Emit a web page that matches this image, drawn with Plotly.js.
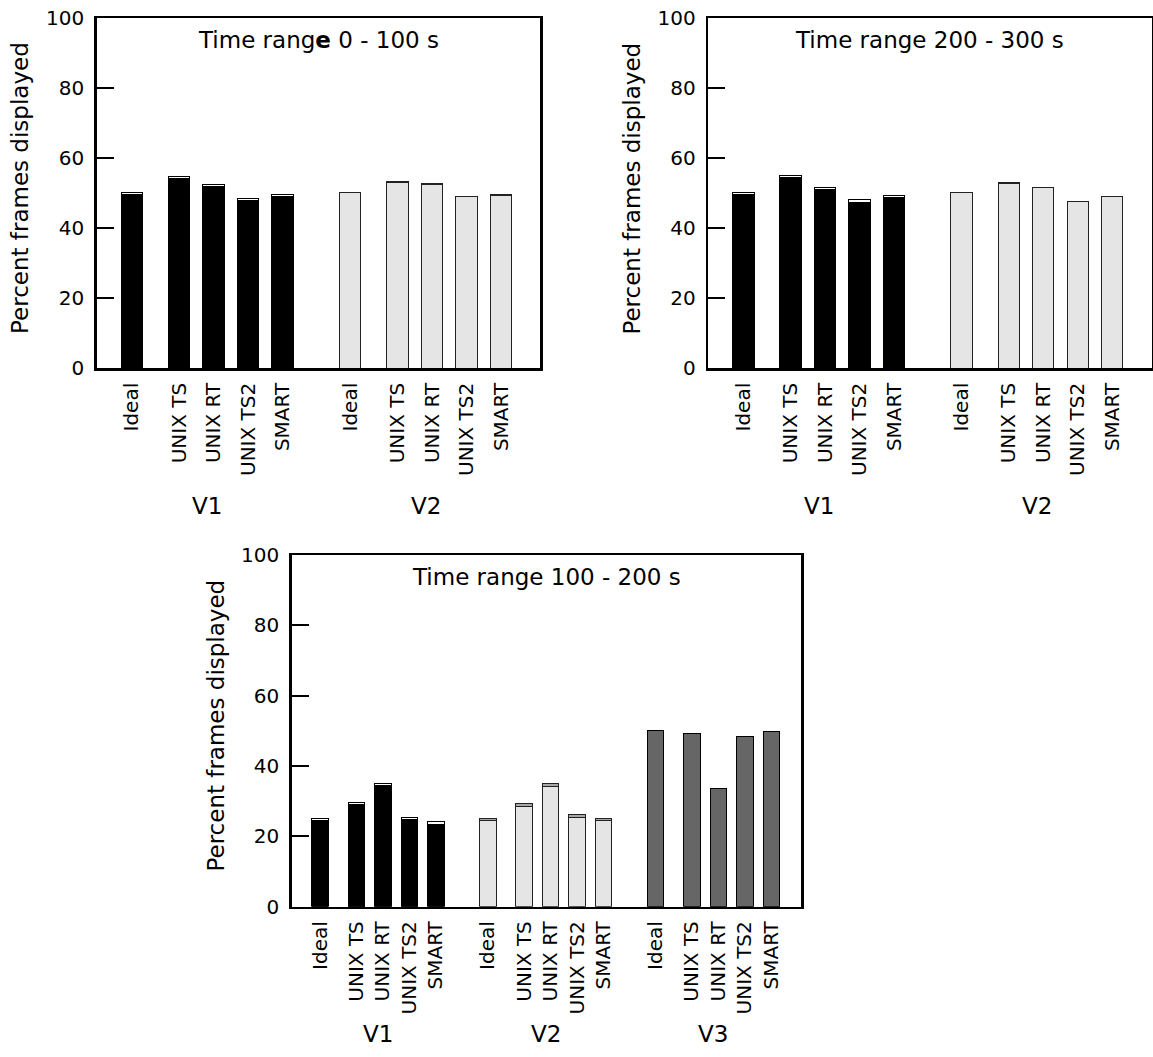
<!DOCTYPE html>
<html>
<head>
<meta charset="utf-8">
<script src="https://cdn.plot.ly/plotly-3.0.1.min.js"></script>
<style>
  html, body { margin: 0; padding: 0; background: #fff; }
  #chart { width: 1153px; height: 1057px; }
</style>
</head>
<body>
<div id="chart"></div>
<script>
// Schedulers compared in every video group
const categories = ['Ideal', 'UNIX TS', 'UNIX RT', 'UNIX TS2', 'SMART'];

// Time range 0 - 100 s: percent of frames displayed, and the thin top segment
const range0V1 = [50.3, 54.7, 52.6, 48.6, 49.7];
const range0V1Top = [0.6, 0.6, 0.6, 0.6, 0.6];
const range0V2 = [50.3, 53.3, 52.7, 49.0, 49.7];
const range0V2Top = [0, 0.3, 0.3, 0, 0.2];

// Time range 200 - 300 s
const range200V1 = [50.3, 55.2, 51.8, 48.1, 49.4];
const range200V1Top = [0.6, 0.6, 0.6, 0.6, 0.6];
const range200V2 = [50.3, 53.1, 51.8, 47.8, 49.2];
const range200V2Top = [0, 0.3, 0, 0, 0.2];

// Time range 100 - 200 s
const range100V1 = [25.1, 29.6, 35.1, 25.4, 24.1];
const range100V1Top = [0.6, 0.6, 0.6, 0.6, 0.6];
const range100V2 = [25.1, 29.4, 35.1, 26.1, 25.2];
const range100V2Top = [0.7, 0.8, 0.9, 0.8, 0.7];
const range100V3 = [50.0, 49.3, 33.5, 48.3, 49.8];

const groupLabels = ['V1', 'V2', 'V3'];
const panelTitles = ['Time rang<b>e</b> 0 - 100 s', 'Time range 200 - 300 s', 'Time range 100 - 200 s'];
const yTitle = 'Percent frames displayed';

// ---- layout helpers ----
const W = 1153, H = 1057;
const px = x => x / W;
const py = y => 1 - y / H;

// bar slots inside a group: Ideal stands a little apart from the rest
const slotOffsets = [0, 1.37, 2.37, 3.37, 4.37];
const groupStep = 6.33;
const barWidth = 0.62;
const positions = g => slotOffsets.map(o => g * groupStep + o);
const groupCenter = g => g * groupStep + (slotOffsets[0] + slotOffsets[4]) / 2;

const styles = {
  black: { base: { color: '#000000', line: { color: '#000000', width: 1 } },
           top:  { color: '#ffffff', line: { color: '#000000', width: 1 } } },
  light: { base: { color: '#e5e5e5', line: { color: '#222222', width: 1 } },
           top:  { color: '#a8a8a8', line: { color: '#222222', width: 1 } } },
  dark:  { base: { color: '#666666', line: { color: '#000000', width: 1 } } }
};

const traces = [];
function addGroup(axisId, g, values, tops, style) {
  const xs = positions(g);
  const xa = 'x' + (axisId === 1 ? '' : axisId);
  const ya = 'y' + (axisId === 1 ? '' : axisId);
  const base = tops ? values.map((v, i) => v - tops[i]) : values;
  traces.push({ type: 'bar', x: xs, y: base, width: barWidth, xaxis: xa, yaxis: ya,
                marker: style.base, hoverinfo: 'skip' });
  if (tops) {
    traces.push({ type: 'bar', x: xs, y: tops, width: barWidth, xaxis: xa, yaxis: ya,
                  marker: style.top, hoverinfo: 'skip' });
  }
}

addGroup(1, 0, range0V1, range0V1Top, styles.black);
addGroup(1, 1, range0V2, range0V2Top, styles.light);
addGroup(2, 0, range200V1, range200V1Top, styles.black);
addGroup(2, 1, range200V2, range200V2Top, styles.light);
addGroup(3, 0, range100V1, range100V1Top, styles.black);
addGroup(3, 1, range100V2, range100V2Top, styles.light);
addGroup(3, 2, range100V3, null, styles.dark);

// panel frames in pixels: left, right, top (100), bottom (0)
const panels = [
  { l: 96.7, r: 540.4, t: 18.3, b: 368.3, groups: 2, xr: [-1.02, 11.84] },
  { l: 708.3, r: 1151.5, t: 18.3, b: 368.3, groups: 2, xr: [-1.02, 11.84] },
  { l: 291.7, r: 801.3, t: 555.0, b: 906.7, groups: 3, xr: [-1.07, 18.16] }
];

const font = { family: 'DejaVu Sans, Arial, sans-serif', color: '#000000' };
const layout = {
  width: W, height: H,
  margin: { l: 0, r: 0, t: 0, b: 0, pad: 0 },
  paper_bgcolor: '#ffffff', plot_bgcolor: '#ffffff',
  barmode: 'stack', showlegend: false,
  font: Object.assign({ size: 20 }, font),
  annotations: []
};

panels.forEach((p, k) => {
  const n = k + 1;
  const tickvals = [], ticktext = [];
  for (let g = 0; g < p.groups; g++) {
    positions(g).forEach((x, i) => { tickvals.push(x); ticktext.push(categories[i]); });
  }
  layout['xaxis' + (n === 1 ? '' : n)] = {
    domain: [px(p.l), px(p.r)], range: p.xr, anchor: 'y' + (n === 1 ? '' : n),
    showline: true, linecolor: '#000', linewidth: 2.5, mirror: true,
    showgrid: false, zeroline: false, ticks: '',
    tickmode: 'array', tickvals: tickvals, ticktext: ticktext, tickangle: -90,
    tickfont: Object.assign({ size: 20 }, font), ticklabelstandoff: 4, fixedrange: true
  };
  layout['yaxis' + (n === 1 ? '' : n)] = {
    domain: [py(p.b), py(p.t)], range: [0, 100], anchor: 'x' + (n === 1 ? '' : n),
    showline: true, linecolor: '#000', linewidth: 2.5, mirror: true,
    showgrid: false, zeroline: false,
    tickmode: 'linear', tick0: 0, dtick: 20,
    ticks: 'inside', ticklen: 17, tickwidth: 2, tickcolor: '#000',
    tickfont: Object.assign({ size: 20 }, font), ticklabelstandoff: 6, fixedrange: true
  };
  // panel title
  layout.annotations.push({
    text: panelTitles[k], xref: 'paper', yref: 'paper',
    x: px((p.l + p.r) / 2), y: py(p.t + 22), xanchor: 'center', yanchor: 'middle',
    showarrow: false, font: Object.assign({ size: 23 }, font)
  });
  // y-axis title
  layout.annotations.push({
    text: yTitle, xref: 'paper', yref: 'paper', textangle: -90,
    x: px(p.l - 76), y: py((p.t + p.b) / 2 - 5), xanchor: 'center', yanchor: 'middle',
    showarrow: false, font: Object.assign({ size: 23 }, font)
  });
  // group labels under the category names
  const unit = (p.r - p.l) / (p.xr[1] - p.xr[0]);
  for (let g = 0; g < p.groups; g++) {
    const cx = p.l + (groupCenter(g) - p.xr[0]) * unit;
    layout.annotations.push({
      text: groupLabels[g], xref: 'paper', yref: 'paper',
      x: px(cx), y: py(k < 2 ? 506 : 1034), xanchor: 'center', yanchor: 'middle',
      showarrow: false, font: Object.assign({ size: 23 }, font)
    });
  }
});

Plotly.newPlot('chart', traces, layout, { staticPlot: true, displayModeBar: false });
</script>
</body>
</html>
